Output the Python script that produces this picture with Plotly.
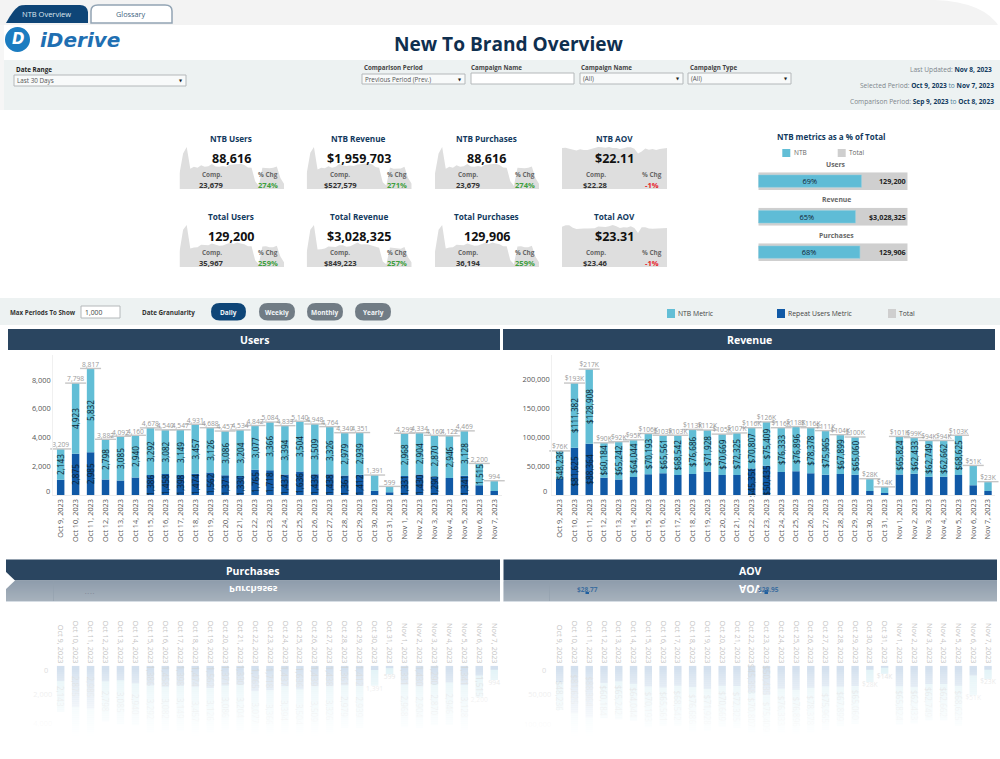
import json
import plotly.graph_objects as go

W, H = 1000, 759
FONT = "Open Sans"
TEAL = "#62bed6"
BLUE = "#1059a6"
GREY = "#cfcfcf"
NAVY = "#123a5e"
HEAD = "#2a4560"

dates = ["Oct 9, 2023", "Oct 10, 2023", "Oct 11, 2023", "Oct 12, 2023", "Oct 13, 2023", "Oct 14, 2023",
         "Oct 15, 2023", "Oct 16, 2023", "Oct 17, 2023", "Oct 18, 2023", "Oct 19, 2023", "Oct 20, 2023",
         "Oct 21, 2023", "Oct 22, 2023", "Oct 23, 2023", "Oct 24, 2023", "Oct 25, 2023", "Oct 26, 2023",
         "Oct 27, 2023", "Oct 28, 2023", "Oct 29, 2023", "Oct 30, 2023", "Oct 31, 2023", "Nov 1, 2023",
         "Nov 2, 2023", "Nov 3, 2023", "Nov 4, 2023", "Nov 5, 2023", "Nov 6, 2023", "Nov 7, 2023"]

users_ntb = [2143, 4923, 5832, 2798, 3085, 2940, 3292, 3082, 3149, 3457, 3126, 3086, 3204, 3077, 3366,
             3394, 3504, 3509, 3326, 2979, 2939, 1091, 414, 2968, 2904, 2870, 2946, 3128, 1515, 714]
users_repeat = [1066, 2875, 2985, 1084, 1007, 1220, 1386, 1458, 1398, 1474, 1562, 1371, 1330, 1765, 1718,
                1437, 1636, 1439, 1438, 1361, 1412, 300, 185, 1331, 1430, 1290, 1176, 1341, 685, 280]
users_total = [3209, 7798, 8817, 3882, 4092, 4160, 4678, 4540, 4547, 4931, 4688, 4457, 4534, 4842, 5084,
               4833, 5140, 4948, 4764, 4340, 4351, 1391, 599, 4299, 4334, 4160, 4122, 4469, 2200, 994]
users_ntb_shown = [1, 1, 1, 1, 1, 1, 1, 1, 1, 1, 1, 1, 1, 1, 1, 1, 1, 1, 1, 1, 1, 0, 0, 1, 1, 1, 1, 1, 1, 0]
users_rep_shown = [0, 1, 1, 0, 0, 0, 1, 1, 1, 1, 1, 1, 1, 1, 1, 1, 1, 1, 1, 1, 1, 0, 0, 1, 1, 1, 0, 1, 0, 0]

rev_ntb = [48236, 111382, 128908, 60184, 65242, 64044, 70193, 65561, 68542, 76686, 71928, 70669, 72325,
           70807, 75409, 76333, 76896, 78378, 75965, 67899, 65060, 21000, 10500, 65824, 62433, 62749,
           62662, 68625, 34000, 16000]
rev_repeat = [27764, 81625, 88364, 29816, 26758, 30956, 35807, 37439, 34458, 36314, 40072, 34331, 34675,
              45358, 50435, 39667, 41104, 37622, 35035, 36101, 34940, 6900, 3500, 35176, 36567, 31251,
              31338, 34375, 17000, 7000]
rev_total_k = [76, 193, 217, 90, 92, 95, 106, 103, 103, 113, 112, 105, 107, 116, 126, 116, 118, 116, 111,
               104, 100, 28, 14, 101, 99, 94, 94, 103, 51, 23]
rev_ntb_shown = [1, 1, 1, 1, 1, 1, 1, 1, 1, 1, 1, 1, 1, 1, 1, 1, 1, 1, 1, 1, 1, 0, 0, 1, 1, 1, 1, 1, 0, 0]
rev_rep_shown = [0, 1, 1, 0, 0, 0, 0, 0, 0, 0, 0, 0, 0, 1, 1, 0, 0, 0, 0, 0, 0, 0, 0, 0, 0, 0, 0, 0, 0, 0]

ntb_aov = [22.5, 22.6, 22.1, 21.5, 21.1, 21.8, 21.3, 21.3, 21.8, 22.2, 23.0, 22.9, 22.6, 23.0, 22.4,
           22.5, 21.9, 22.3, 22.8, 22.8, 22.1, 19.5, 20.5, 22.2, 21.5, 21.9, 21.3, 21.9, 22.0, 22.4]
total_aov = [23.7, 24.6, 24.6, 23.2, 22.5, 22.8, 22.7, 22.7, 22.7, 22.9, 23.9, 23.6, 23.6, 24.0, 24.8,
             24.0, 23.0, 23.4, 23.3, 24.0, 23.0, 20.1, 23.4, 23.5, 22.8, 22.6, 22.8, 23.0, 23.2, 23.1]

card_titles = ["NTB Users", "NTB Revenue", "NTB Purchases", "NTB AOV",
               "Total Users", "Total Revenue", "Total Purchases", "Total AOV"]
card_values = ["88,616", "$1,959,703", "88,616", "$22.11", "129,200", "$3,028,325", "129,906", "$23.31"]
card_comps = ["23,679", "$527,579", "23,679", "$22.28", "35,967", "$849,223", "36,194", "$23.46"]
card_chg = ["274%", "271%", "274%", "-1%", "259%", "257%", "259%", "-1%"]
rev_total = [v * 1000 for v in rev_total_k]
card_series = [users_ntb, rev_ntb, users_ntb, ntb_aov, users_total, rev_total, users_total, total_aov]

share_names = ["Users", "Revenue", "Purchases"]
share_pct = [0.69, 0.65, 0.68]
share_full = [1, 1, 1]
share_totals = ["129,200", "$3,028,325", "129,906"]

# ---- pixel helpers for the page furniture -------------------------------------------------
shapes, annos, traces, layout_axes = [], [], [], {}


def fx(x):
    return x / W


def fy(y):
    return 1 - y / H


def rect(x0, y0, x1, y1, fill, line=None, lw=1, layer="below"):
    shapes.append(dict(type="rect", xref="paper", yref="paper", x0=fx(x0), x1=fx(x1), y0=fy(y1), y1=fy(y0),
                       fillcolor=fill, line=dict(color=line, width=lw) if line else dict(width=0), layer=layer))


def path(d, fill, line=None, lw=1, layer="below"):
    s = ""
    for c, *pts in d:
        s += c + " ".join(f"{fx(pts[i]):.5f},{fy(pts[i + 1]):.5f}" for i in range(0, len(pts), 2))
    s += "Z"
    shapes.append(dict(type="path", xref="paper", yref="paper", path=s, fillcolor=fill,
                       line=dict(color=line, width=lw) if line else dict(width=0), layer=layer))


def pill(x0, y0, x1, y1, fill):
    r = (y1 - y0) / 2
    path([("M", x0 + r, y0), ("L", x1 - r, y0), ("Q", x1, y0, x1, y0 + r), ("Q", x1, y1, x1 - r, y1),
          ("L", x0 + r, y1), ("Q", x0, y1, x0, y0 + r), ("Q", x0, y0, x0 + r, y0)], fill)


def text(x, y, t, size=7.5, color="#333", bold=False, anchor="center", family=FONT):
    annos.append(dict(xref="paper", yref="paper", x=fx(x), y=fy(y), text=f"<b>{t}</b>" if bold else t,
                      showarrow=False, xanchor=anchor, yanchor="middle", borderpad=0,
                      font=dict(size=size, color=color, family=family)))
    return len(annos) - 1


def axes(n, x0, x1, y0, y1, xo, yo):
    k = "" if n == 1 else str(n)
    layout_axes[f"xaxis{k}"] = dict(domain=[fx(x0), fx(x1)], anchor=f"y{k}", **xo)
    layout_axes[f"yaxis{k}"] = dict(domain=[fy(y1), fy(y0)], anchor=f"x{k}", **yo)
    return f"x{k}", f"y{k}"


def dropdown(x0, y0, x1, y1, label, arrow=True):
    rect(x0, y0, x1, y1, "#f8fafa" if arrow else "#ffffff", "#b4b8ba", 1)
    if label:
        text(x0 + 2, (y0 + y1) / 2, label, 6.3, "#555", anchor="left")
    if arrow:
        text(x1 - 5, (y0 + y1) / 2, "▼", 4, "#222", family="DejaVu Sans")


def fade_rule(color0, color1, y0, y1, x0, x1):
    n = y1 - y0
    for i in range(n):
        t = i / max(n - 1, 1)
        c = "#" + "".join(f"{round(color0[j] + (color1[j] - color0[j]) * t):02x}" for j in range(3))
        rect(x0, y0 + i, x1, y0 + i + 1.3, c)


# ---- page background ---------------------------------------------------------------------
rect(0, 0, W, 25, "#f3f3f3")
rect(0, 25, 4, 110, "#f6f6f6")
path([("M", 935, 0), ("Q", 985, 2, 1000, 28), ("L", 1000, 0)], "#ffffff")
rect(4, 60, W, 110, "#edf2f2")
rect(0, 298, W, 325, "#edf2f2")

# tabs
path([("M", 6, 23), ("Q", 13, 10, 19, 6), ("Q", 21, 5, 26, 5), ("L", 80, 5), ("Q", 87, 5, 88, 12), ("L", 88, 23)],
     "#0e4577")
path([("M", 91, 23), ("L", 91, 11), ("Q", 91, 5, 98, 5), ("L", 165, 5), ("Q", 172, 5, 172, 11), ("L", 172, 23)],
     "#ffffff", "#92a4b4", 1.5)
text(46.5, 14.5, "NTB Overview", 7.5, "#dfe8f0")
text(131, 14.5, "Glossary", 7.3, "#3c5f80")

# logo
shapes.append(dict(type="circle", xref="paper", yref="paper", x0=fx(5), x1=fx(30), y0=fy(52), y1=fy(27),
                   fillcolor="#1b7cc0", line=dict(width=0), layer="below"))
text(17.5, 39.5, "<i>D</i>", 15, "#ffffff", True, family="DejaVu Sans")
text(39, 40, "<i>iDerive</i>", 20, "#1f6fb2", True, "left", family="DejaVu Sans")

text(509, 44, "New To Brand Overview", 19.1, "#0f2f4f", True)

# filter band
text(15, 69, "Date Range", 6.3, "#222", True, "left")
dropdown(14, 75, 186, 86, "Last 30 Days")
text(363, 67.5, "Comparison Period", 6.2, "#444", True, "left")
dropdown(362, 74, 465, 84, "Previous Period (Prev.)")
text(470, 67.5, "Campaign Name", 6.2, "#444", True, "left")
dropdown(471, 73, 574, 84, "", False)
text(580, 67.5, "Campaign Name", 6.2, "#444", True, "left")
dropdown(580, 73, 683, 84, "(All)")
text(689, 67.5, "Campaign Type", 6.2, "#444", True, "left")
dropdown(688, 73, 791, 84, "(All)")
G = "#7d868c"
text(993, 70, f"<span style='color:{G}'>Last Updated:</span> <b>Nov 8, 2023</b>", 6.6, NAVY, anchor="right")
text(995, 86, f"<span style='color:{G}'>Selected Period:</span> <b>Oct 9, 2023</b> "
              f"<span style='color:#4a7d96'>to</span> <b>Nov 7, 2023</b>", 6.6, NAVY, anchor="right")
text(995, 101, f"<span style='color:{G}'>Comparison Period:</span> <b>Sep 9, 2023</b> "
               f"<span style='color:#4a7d96'>to</span> <b>Oct 8, 2023</b>", 6.6, NAVY, anchor="right")

# controls band
text(9, 312, "Max Periods To Show", 6.2, "#333", True, "left")
rect(81, 306, 120, 318, "#ffffff", "#b4b8ba", 1)
text(84, 312, "1,000", 6.8, "#444", anchor="left")
text(141, 312, "Date Granularity", 6.3, "#333", True, "left")
pills = [("Daily", 211, 246, "#0e4577"), ("Weekly", 259, 295, "#717c85"),
         ("Monthly", 307, 343, "#717c85"), ("Yearly", 355, 391, "#717c85")]
for name, a, b, c in pills:
    pill(a, 303, b, 320.5, c)
    text((a + b) / 2, 312, name, 6.5, "#f2f5f7", True)
for name, x, c in [("NTB Metric", 667, TEAL), ("Repeat Users Metric", 777, BLUE), ("Total", 888, GREY)]:
    rect(x, 309, x + 8, 318, c)
    text(x + 10, 313.5, name, 6.8, "#444", anchor="left")

# section headers
for name, a, b, top in [("Users", 8, 500, 329), ("Revenue", 503, 995, 329),
                        ("Purchases", 6, 500, 559.5), ("AOV", 503.5, 997, 559.5)]:
    rect(a, top, b, top + 21, HEAD)
    text((a + b) / 2, top + 11, name, 10.5, "#ffffff", True)

# mirrored header reflections under the lower two sections
fade_rule((0x8f, 0x9d, 0xac), (0xa6, 0xb1, 0xbc), 581, 601, 6, 500)
fade_rule((0x8f, 0x9d, 0xac), (0xa6, 0xb1, 0xbc), 581, 601, 503.5, 997)
rect(6, 601, 500, 602, "#d6dde4")
rect(503.5, 601, 997, 602, "#d6dde4")
path([("M", 5, 571), ("L", 15, 580.5), ("L", 5, 590)], "#ffffff", layer="above")
mirrored = [text(253, 589, "Purchases", 9.5, "#ffffff", True), text(750, 589, "AOV", 10.5, "#ffffff", True)]
text(587, 589, "$28.77", 6.5, "#3f6f9f", True)
text(768, 589, "$28.95", 6.5, "#3f6f9f", True)
text(90, 592.5, "- - - -", 4.5, "#667")
rect(585.5, 592, 589, 594, "#1f5f9f")
rect(764.5, 590, 768, 594, "#1f5f9f")
rect(53, 581, 53.6, 601, "#92a0ae")
rect(549, 581, 549.6, 601, "#92a0ae")


# ---- main stacked charts ------------------------------------------------------------------
def stacked(n, x0, x1, y0, y1, ymax, ticks, ticktext, ntb, rep, tot_labels, tot_vals, ntb_txt, rep_txt, mirror=False):
    xo = dict(type="category", categoryorder="array", categoryarray=dates, range=[-0.5, 29.5],
              tickangle=90 if mirror else -90, showgrid=False, ticks="", zeroline=False,
              side="top" if mirror else "bottom",
              tickfont=dict(size=7.4, family=FONT, color="#c4c4c4" if mirror else "#555"),
              showline=not mirror, linecolor="#ececec", linewidth=1, tickmode="array", tickvals=dates, ticktext=dates)
    yo = dict(range=[ymax, 0] if mirror else [0, ymax], showgrid=False, zeroline=False, ticks="", tickmode="array",
              tickvals=ticks, ticktext=ticktext,
              tickfont=dict(size=7.4, family=FONT, color="#dcdcdc" if mirror else "#555"),
              showline=not mirror, linecolor="#f0f0f0", linewidth=1)
    xa, ya = axes(n, x0, x1, y0, y1, xo, yo)
    op = 0.18 if mirror else 1
    tf = dict(size=8.2, family=FONT, color="#0c1f30")
    common = dict(x=dates, xaxis=xa, yaxis=ya, width=0.5, showlegend=False, hoverinfo="skip", opacity=op,
                  textposition="inside", insidetextanchor="middle", constraintext="none",
                  textangle=90 if mirror else -90, insidetextfont=tf, cliponaxis=False)
    traces.append(go.Bar(y=rep, marker=dict(color=BLUE, line=dict(width=0)), text=rep_txt, name="Repeat", **common))
    traces.append(go.Bar(y=ntb, base=rep, marker=dict(color=TEAL, line=dict(width=0)), text=ntb_txt, name="NTB", **common))
    if not mirror:
        traces.append(go.Scatter(x=dates, y=tot_vals, xaxis=xa, yaxis=ya, mode="markers", showlegend=False,
                                 hoverinfo="skip", cliponaxis=False,
                                 marker=dict(symbol="line-ew", size=15, line=dict(color="#c6c6c6", width=1.4))))
    traces.append(go.Scatter(x=dates, y=tot_vals, xaxis=xa, yaxis=ya, mode="text", text=tot_labels, showlegend=False,
                             hoverinfo="skip", cliponaxis=False, opacity=0.3 if mirror else 1,
                             textposition="bottom center" if mirror else "top center",
                             textfont=dict(size=6.7, family=FONT, color="#999")))


u_tot = [f"{v:,}" for v in users_total]
u_n = [f"{v:,}" if s else "" for v, s in zip(users_ntb, users_ntb_shown)]
u_r = [f"{v:,}" if s else "" for v, s in zip(users_repeat, users_rep_shown)]
r_tot = [f"${v}K" for v in rev_total_k]
r_n = [f"${v:,}" if s else "" for v, s in zip(rev_ntb, rev_ntb_shown)]
r_r = [f"${v:,}" if s else "" for v, s in zip(rev_repeat, rev_rep_shown)]
# in the reflection only the short bars keep a total label within the visible part of the fade
u_tot_m = [t if v < 2500 else "" for t, v in zip(u_tot, users_total)]
r_tot_m = [t if v < 60 else "" for t, v in zip(r_tot, rev_total_k)]

u_ticks = [2000, 4000, 6000, 8000]
r_ticks = [50000, 100000, 150000, 200000]
stacked(1, 53.2, 501.7, 355, 495, 9756, u_ticks, [f"{v:,}" for v in u_ticks], users_ntb, users_repeat,
        u_tot, users_total, u_n, u_r)
stacked(2, 552.3, 995.4, 355, 495, 241379, r_ticks, [f"{v:,}" for v in r_ticks], rev_ntb, rev_repeat,
        r_tot, rev_total, r_n, r_r)
stacked(3, 53.2, 501.7, 665.7, 759, 6500, u_ticks[:2], ["2,000", "4,000"], users_ntb, users_repeat,
        u_tot_m, users_total, u_n, u_r, mirror=True)
stacked(4, 552.3, 995.4, 665.7, 759, 160000, r_ticks[:2], ["50,000", "100,000"], rev_ntb, rev_repeat,
        r_tot_m, rev_total, r_n, r_r, mirror=True)
text(50.5, 491, "0", 7.4, "#555", anchor="right")
text(548, 491, "0", 7.4, "#555", anchor="right")
text(49, 670, "0", 7.4, "#dcdcdc", anchor="right")
text(547, 670, "0", 7.4, "#dcdcdc", anchor="right")

# reflection fade: white veil strengthening with depth
veil_top, veil_bottom = 668, 738
for y in range(veil_top, veil_bottom, 2):
    a = (y - veil_top) / (veil_bottom - veil_top)
    rect(0, y, W, y + 2.2, f"rgba(255,255,255,{min(1, a ** 0.7):.3f})", layer="above")
rect(0, veil_bottom, W, H, "#ffffff", layer="above")

# ---- KPI cards ----------------------------------------------------------------------------
col_x = [(179.5, 284), (306.7, 411.7), (435, 539), (562, 667)]
row_y = [(147, 189), (225, 267)]
title_x = [231, 358.7, 486.7, 614]
comp_x = [211.7, 340, 468, 595.7]
chg_x = [268, 396.7, 525, 651.7]
for i in range(8):
    c, r = i % 4, i // 4
    x0, x1 = col_x[c]
    y0, y1 = row_y[r]
    series = card_series[i]
    hidden = dict(visible=False, fixedrange=True)
    xa, ya = axes(5 + i, x0, x1, y0, y1, dict(hidden, range=[0, 29]), dict(hidden, range=[0, max(series)]))
    traces.append(go.Scatter(x=list(range(30)), y=series, xaxis=xa, yaxis=ya, mode="lines", fill="tozeroy",
                             fillcolor="#dedede", line=dict(width=0), showlegend=False, hoverinfo="skip"))
    traces.append(go.Bar(x=list(range(30)), y=series, xaxis=xa, yaxis=ya, width=0.07, showlegend=False,
                         hoverinfo="skip", marker=dict(color="rgba(255,255,255,0.55)", line=dict(width=0))))
    base = y1
    text(title_x[c], base - 50.5, card_titles[i], 8.2, NAVY, True)
    text(title_x[c], base - 30.5, card_values[i], 12.5, "#111", True)
    text(comp_x[c], base - 15, "Comp.", 6.4, "#666", True)
    text(comp_x[c], base - 4, card_comps[i], 7.6, "#333", True)
    text(chg_x[c], base - 15, "% Chg", 6.4, "#666", True)
    text(chg_x[c], base - 4, card_chg[i], 7.6, "#e8222a" if card_chg[i].startswith("-") else "#3f9f3f", True)

# ---- NTB share panel ----------------------------------------------------------------------
text(830.7, 136, "NTB metrics as a % of Total", 8, NAVY, True)
rect(782.3, 149, 790.3, 157, TEAL)
text(793, 153, "NTB", 6.5, "#666", anchor="left")
rect(837.7, 149, 845.7, 157, GREY)
text(848, 153, "Total", 6.5, "#666", anchor="left")

for i, (a, b) in enumerate([(172.3, 190), (207.7, 225.7), (243.3, 261)]):
    n = 13 + i
    opts = dict(visible=False, fixedrange=True)
    xa, ya = axes(n, 758.3, 907.7, a, b, dict(opts, range=[0, 1]), dict(opts, range=[-0.5, 0.5]))
    traces.append(go.Bar(x=[share_full[i]], y=[0], orientation="h", width=1, xaxis=xa, yaxis=ya, showlegend=False,
                         hoverinfo="skip", marker=dict(color=GREY, line=dict(width=0))))
    traces.append(go.Bar(x=[share_pct[i]], y=[0], orientation="h", width=0.7, xaxis=xa, yaxis=ya, showlegend=False,
                         hoverinfo="skip", marker=dict(color="#5fbcd6", line=dict(color="#8fd0e2", width=0.5)),
                         text=[f"{share_pct[i]:.0%}"], textposition="inside", insidetextanchor="middle",
                         constraintext="none", textangle=0,
                         insidetextfont=dict(size=7.4, family=FONT, color="#123")))
    text(836, a - 8.3, share_names[i], 6.8, "#666", True)
    text(907, (a + b) / 2, share_totals[i], 7.2, "#222", True, "right")

fig = go.Figure(traces)
fig.update_layout(width=W, height=H, margin=dict(l=0, r=0, t=0, b=0), paper_bgcolor="#ffffff",
                  plot_bgcolor="rgba(0,0,0,0)", barmode="overlay", showlegend=False, shapes=shapes, annotations=annos,
                  font=dict(family=FONT), uniformtext=dict(mode=False), **layout_axes)

post = """
document.body.style.margin = '0';
document.body.style.overflow = 'hidden';
%s.forEach(function (i) {
  var g = document.querySelector('.annotation[data-index="' + i + '"] .annotation-text-g');
  if (!g) { return; }
  var b = g.getBBox();
  g.setAttribute('transform', 'translate(0,' + (2 * b.y + b.height) + ') scale(1,-1)');
});
""" % json.dumps(mirrored)
fig.write_html("out.html", post_script=post, config=dict(displayModeBar=False, staticPlot=True))
